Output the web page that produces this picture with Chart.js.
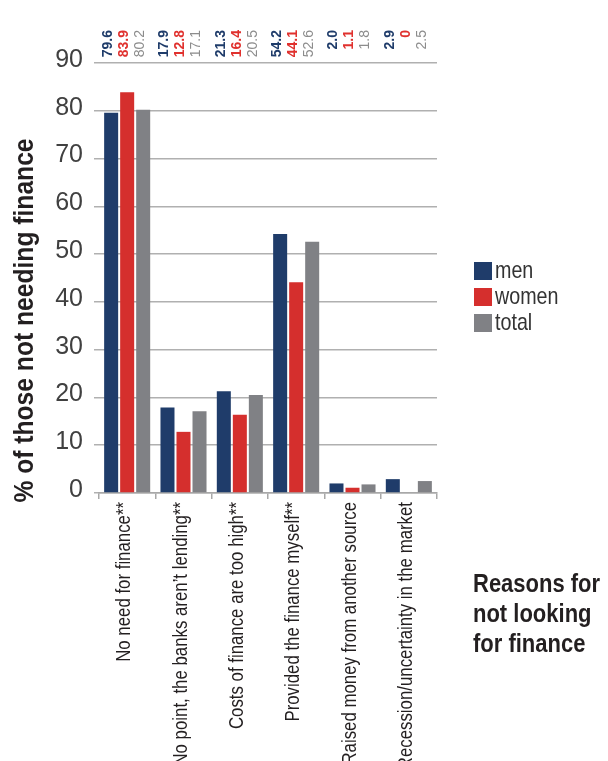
<!DOCTYPE html>
<html>
<head>
<meta charset="utf-8">
<script src="https://cdn.jsdelivr.net/npm/chart.js@4.4.1/dist/chart.umd.min.js"></script>
<style>
  html, body { margin: 0; padding: 0; background: #ffffff; }
  #wrap { width: 608px; height: 761px; position: relative; }
</style>
</head>
<body>
<div id="wrap"><canvas id="c" width="608" height="761"></canvas></div>
<script>
const categories = [
  'No need for finance**',
  'No point, the banks aren\u2019t lending**',
  'Costs of finance are too high**',
  'Provided the finance myself**',
  'Raised money from another source',
  'Recession/uncertainty in the market'
];
const seriesNames = ['men', 'women', 'total'];
const menValues = [79.6, 17.9, 21.3, 54.2, 2.0, 2.9];
const womenValues = [83.9, 12.8, 16.4, 44.1, 1.1, 0];
const totalValues = [80.2, 17.1, 20.5, 52.6, 1.8, 2.5];
const yTickValues = [0, 10, 20, 30, 40, 50, 60, 70, 80, 90];
const yAxisTitle = '% of those not needing finance';
const xAxisTitleLines = ['Reasons for', 'not looking', 'for finance'];

const SANS = '"Liberation Sans", Arial, Helvetica, sans-serif';
const seriesColors = ['#1f3c6a', '#d52f2d', '#808185'];
const labelColors = ['#1f3c6a', '#e0312e', '#8c8c8c'];
const labelWeights = ['bold', 'bold', 'normal'];

// draws text compressed horizontally (condensed look), optionally rotated
function condensedText(ctx, text, x, y, opts) {
  ctx.save();
  ctx.translate(x, y);
  if (opts.rotate) ctx.rotate(opts.rotate);
  ctx.scale(opts.squeeze || 1, 1);
  ctx.font = opts.font;
  ctx.fillStyle = opts.color;
  ctx.textAlign = opts.align || 'left';
  ctx.textBaseline = opts.baseline || 'alphabetic';
  ctx.fillText(text, 0, 0);
  ctx.restore();
}

const overlay = {
  id: 'overlay',
  afterDraw(chart) {
    const ctx = chart.ctx;
    // category labels under the x axis, placed with the x scale
    const xs = chart.scales.x;
    chart.data.labels.forEach((lab, j) => {
      const px = xs.getPixelForTick(j);
      condensedText(ctx, lab, px + 3, 502, {
        rotate: -Math.PI / 2, squeeze: 0.82, font: '20.5px ' + SANS,
        color: '#231f20', align: 'right', baseline: 'alphabetic'
      });
    });
    // value labels above the plot
    chart.data.datasets.forEach((ds, i) => {
      const meta = chart.getDatasetMeta(i);
      meta.data.forEach((bar, j) => {
        const v = ds.data[j];
        const txt = v === 0 ? '0' : v.toFixed(1);
        condensedText(ctx, txt, bar.x - 3, 30, {
          rotate: -Math.PI / 2, squeeze: 1, font: labelWeights[i] + ' 14px ' + SANS,
          color: labelColors[i], align: 'right', baseline: 'middle'
        });
      });
    });
    // legend
    chart.data.datasets.forEach((ds, i) => {
      const top = 262 + i * 26;
      ctx.save();
      ctx.fillStyle = ds.backgroundColor;
      ctx.fillRect(474, top, 18, 18);
      ctx.restore();
      condensedText(ctx, ds.label, 495, top + 16, {
        squeeze: 0.82, font: '24px ' + SANS, color: '#333333', baseline: 'alphabetic'
      });
    });
    // y axis title
    condensedText(ctx, yAxisTitle, 33, 320.5, {
      rotate: -Math.PI / 2, squeeze: 0.88, font: 'bold 28px ' + SANS,
      color: '#231f20', align: 'center', baseline: 'alphabetic'
    });
    // x axis title
    xAxisTitleLines.forEach((line, k) => {
      condensedText(ctx, line, 473, 592 + k * 30, {
        squeeze: 0.83, font: 'bold 26.5px ' + SANS, color: '#231f20'
      });
    });
  }
};

new Chart(document.getElementById('c'), {
  type: 'bar',
  data: {
    labels: categories,
    datasets: [
      { label: seriesNames[0], data: menValues, backgroundColor: seriesColors[0] },
      { label: seriesNames[1], data: womenValues, backgroundColor: seriesColors[1] },
      { label: seriesNames[2], data: totalValues, backgroundColor: seriesColors[2] }
    ]
  },
  options: {
    responsive: false,
    animation: false,
    devicePixelRatio: 1,
    layout: { padding: { top: 63, right: 171, left: 0, bottom: 0 } },
    datasets: { bar: { categoryPercentage: 0.853, barPercentage: 0.875, borderWidth: 0 } },
    plugins: { legend: { display: false }, tooltip: { enabled: false } },
    scales: {
      x: {
        afterFit: (s) => { s.height = 268; },
        border: { display: true, color: '#a8a8a8', width: 1.5 },
        grid: { display: true, drawOnChartArea: false, offset: true, color: '#a8a8a8', lineWidth: 1.5, tickLength: 6 },
        ticks: { display: false, autoSkip: false }
      },
      y: {
        min: 0, max: 90,
        afterFit: (s) => { s.width = 99; },
        afterBuildTicks: (s) => { s.ticks = yTickValues.map(v => ({ value: v })); },
        border: { display: false },
        grid: { color: '#b0b0b0', lineWidth: 1.5, tickLength: 5 },
        ticks: {
          padding: 11, labelOffset: -3, color: '#404040',
          font: { family: SANS, size: 25 }
        }
      }
    }
  },
  plugins: [overlay]
});
</script>
</body>
</html>
